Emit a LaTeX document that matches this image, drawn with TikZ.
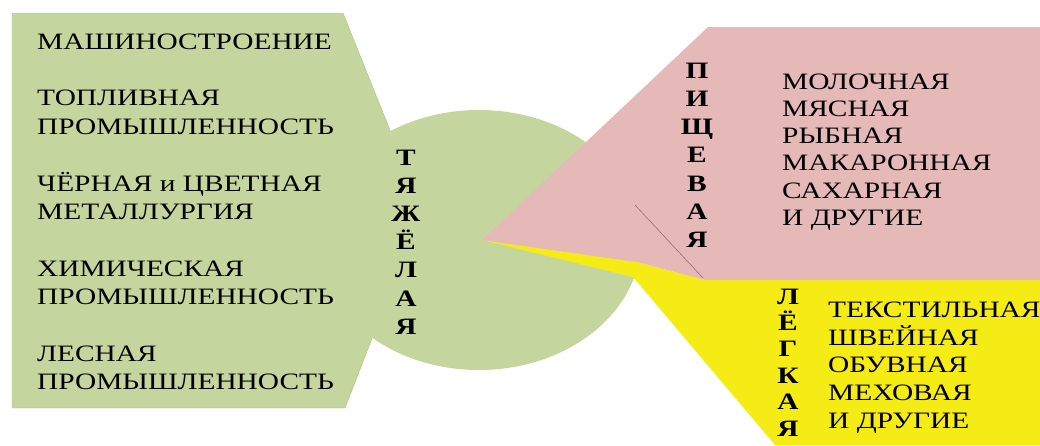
\documentclass[tikz,border=0pt]{standalone}
\usepackage{fontspec}
\usepackage{tikz}
\newfontfamily\listfont{Liberation Serif}[FakeStretch=1.25]
\definecolor{heavygreen}{RGB}{196,214,157}
\definecolor{heavyedge}{RGB}{168,196,120}
\definecolor{foodpink}{RGB}{229,185,184}
\definecolor{lightyellow}{RGB}{245,236,22}
\definecolor{foldgray}{RGB}{150,112,116}

\begin{document}
\begin{tikzpicture}[x=1pt,y=-1pt,
    item/.style={anchor=base west,inner sep=0pt,font=\listfont\fontsize{23.5}{23.5}\selectfont},
    letter/.style={anchor=base,inner sep=0pt,font=\listfont\bfseries\fontsize{23.5}{23.5}\selectfont}]
                \useasboundingbox (0,0) rectangle (1040,445);

                % background shapes
                \filldraw[fill=heavygreen,draw=heavyedge,thin] (12,13) -- (343,13) -- (422,210) -- (345,408) -- (12,408) -- cycle;
                \fill[heavygreen] (479,240) ellipse [x radius=162pt, y radius=130pt];
                \fill[lightyellow] (482,240) -- (637,262) -- (705,280) -- (1040,280) -- (1040,445) -- (775,445) -- (633,277) -- cycle;
                \fill[foodpink] (708,27) -- (1040,27) -- (1040,280) -- (705,280) -- (637,262) -- (482,240) -- cycle;
                \draw[foldgray,line width=0.6pt] (635,205) -- (703,278);

                % vertical titles
                \foreach[count=\i] \l in {Т,Я,Ж,Ё,Л,А,Я} {
                    \node[letter] (heavy\i) at (406,165+28.2*\i-28.2) {\l};
                }
                \foreach[count=\i] \l in {П,И,Щ,Е,В,А,Я} {
                    \node[letter] (food\i) at (697,78+28.3*\i-28.3) {\l};
                }
                \foreach[count=\i] \l in {Л,Ё,Г,К,А,Я} {
                    \node[letter] (light\i) at (788,304+26.4*\i-26.4) {\l};
                }

                % branch lists
                \foreach \t/\k in {МАШИНОСТРОЕНИЕ/0,ТОПЛИВНАЯ/2,ПРОМЫШЛЕННОСТЬ/3,ЧЁРНАЯ и ЦВЕТНАЯ/5,МЕТАЛЛУРГИЯ/6,ХИМИЧЕСКАЯ/8,ПРОМЫШЛЕННОСТЬ/9,ЛЕСНАЯ/11,ПРОМЫШЛЕННОСТЬ/12} {
                    \node[item] (hl\k) at (37,49+28.4*\k) {\t};
                }
                \foreach[count=\i] \t in {МОЛОЧНАЯ,МЯСНАЯ,РЫБНАЯ,МАКАРОННАЯ,САХАРНАЯ,И ДРУГИЕ} {
                    \node[item] (fl\i) at (782,89+27.3*\i-27.3) {\t};
                }
                \foreach[count=\i] \t in {ТЕКСТИЛЬНАЯ,ШВЕЙНАЯ,ОБУВНАЯ,МЕХОВАЯ,И ДРУГИЕ} {
                    \node[item] (ll\i) at (828,317.5+27.7*\i-27.7) {\t};
                }
\end{tikzpicture}
\end{document}
